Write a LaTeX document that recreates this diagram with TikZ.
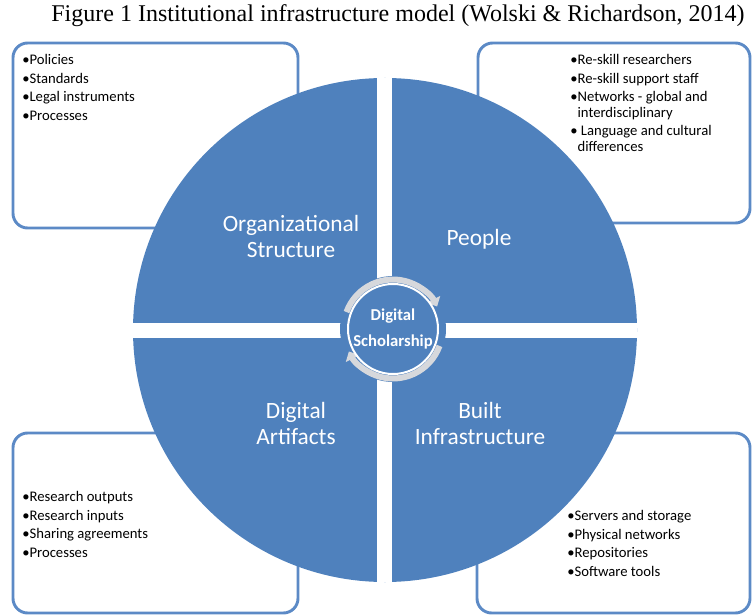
\documentclass[tikz,border=0pt]{standalone}
\usepackage{fontspec}
\setmainfont{Carlito}
\newfontfamily\titlefont{Liberation Serif}
\usetikzlibrary{arrows.meta}
\definecolor{quadblue}{RGB}{79,129,189}
\definecolor{boxblue}{RGB}{92,138,198}
\definecolor{ringgray}{RGB}{214,216,220}
\tikzset{
  infobox/.style={draw=boxblue, line width=2.2pt, fill=white, rounded corners=11pt},
  listtext/.style={font=\fontsize{11}{14}\selectfont, align=left, anchor=north west, inner sep=0pt},
  quadlabel/.style={text=white, font=\fontsize{17.5}{19.5}\selectfont, align=center},
  ringarrow/.style={draw=ringgray, line width=4.5pt, -{Triangle[length=6pt,width=11pt]}}
}
\begin{document}
\begin{tikzpicture}[x=0.75pt, y=-0.75pt]
    \useasboundingbox (0,0) rectangle (752,616);
    \coordinate (O) at (385,330);
    \coordinate (C) at (393,329);
    % title
    \node (title) at (398,16) {\titlefont\fontsize{18}{20}\selectfont Figure 1 Institutional infrastructure model (Wolski \& Richardson, 2014)};
    % boxes behind the circle
    \draw[infobox] (13,43) rectangle (298,228);
    \draw[infobox] (478,43) rectangle (750,223);
    \draw[infobox] (13,433) rectangle (298,613);
    \draw[infobox] (477,433) rectangle (750,613);
    % the four quadrants
    \fill[quadblue] (O) circle[radius=252];
    \begin{scope}
        \clip (O) circle[radius=252];
        \fill[white] (377,60) rectangle (392,600);
        \fill[white] (120,323) rectangle (660,338);
    \end{scope}
    % hub
    \fill[quadblue] (C) circle[radius=53];
    \draw[ringarrow] (C) ++(-160:49.5) arc[start angle=-160, end angle=-27, radius=49.5];
    \draw[ringarrow] (C) ++(20:49.5) arc[start angle=20, end angle=153, radius=49.5];
    \draw[white, line width=1.5pt, fill=quadblue] (C) circle[radius=45];
    \node (hub) at (C) [text=white, align=center, font=\bfseries\fontsize{12.5}{19}\selectfont] {Digital\\Scholarship};
    % quadrant labels
    \node (org) at (291,236) [quadlabel] {Organizational\\Structure};
    \node (ppl) at (479,239) [quadlabel] {People};
    \node (art) at (296,423) [quadlabel] {Digital\\Artifacts};
    \node (blt) at (480,423) [quadlabel] {Built\\Infrastructure};
    % lists
    \node (orglist) at (22,54) [listtext] {•Policies\\•Standards\\•Legal instruments\\•Processes};
    \node (ppllist) at (570,54) [listtext] {•Re-skill researchers\\•Re-skill support staff\\•Networks - global and\\[-2.5pt]\hphantom{•}interdisciplinary\\• Language and cultural\\[-2.5pt]\hphantom{•}differences};
    \node (artlist) at (22,491) [listtext] {•Research outputs\\•Research inputs\\•Sharing agreements\\•Processes};
    \node (bltlist) at (567,510) [listtext] {•Servers and storage\\•Physical networks\\•Repositories\\•Software tools};
\end{tikzpicture}
\end{document}
